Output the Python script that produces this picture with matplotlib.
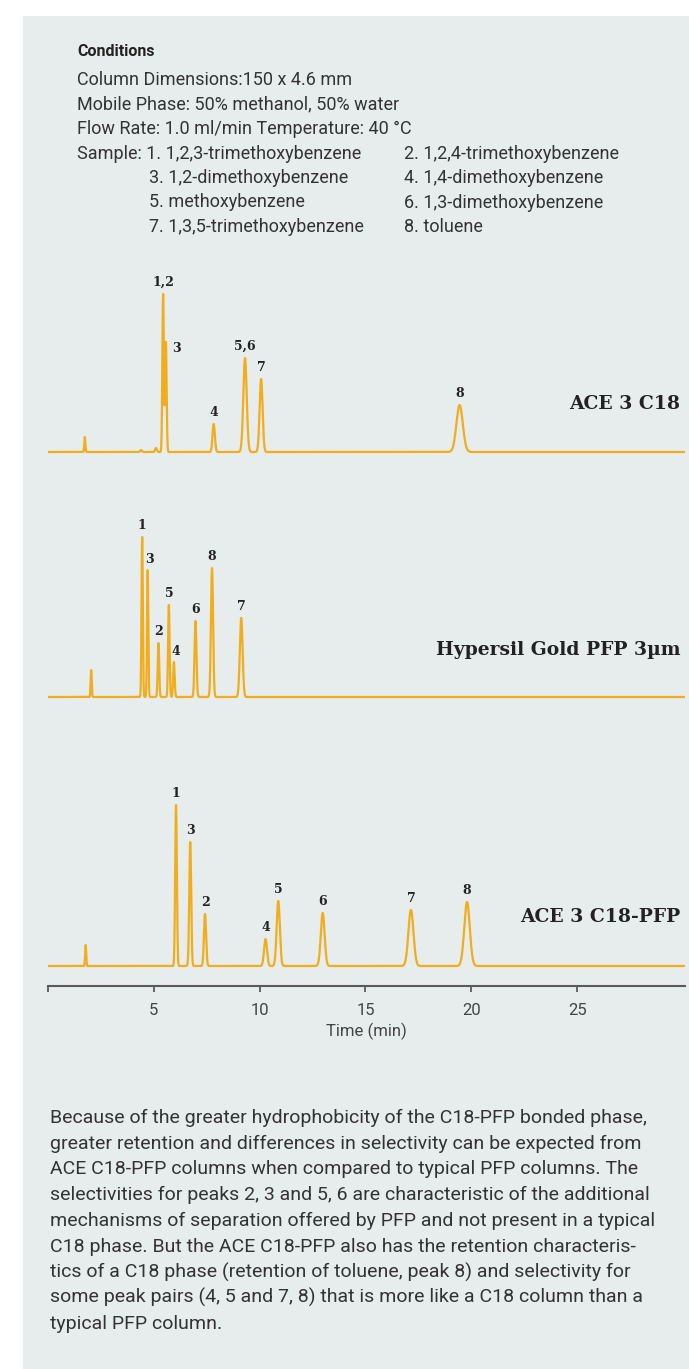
import numpy as np
import matplotlib
matplotlib.use('Agg')
import matplotlib.pyplot as plt
from matplotlib.patches import Rectangle

# sample compounds
compounds = ['1,2,3-trimethoxybenzene', '1,2,4-trimethoxybenzene', '1,2-dimethoxybenzene',
             '1,4-dimethoxybenzene', 'methoxybenzene', '1,3-dimethoxybenzene',
             '1,3,5-trimethoxybenzene', 'toluene']

# ACE 3 C18: retention time (min), height, width (sigma, min), label
c18_time = [1.74, 4.40, 5.10, 5.44, 5.57, 7.83, 9.31, 10.07, 19.45]
c18_height = [15, 2, 4, 158, 110, 28, 94, 73, 47]
c18_width = [0.025, 0.04, 0.04, 0.035, 0.035, 0.055, 0.08, 0.07, 0.15]
c18_label = ['', '', '', '1,2', '3', '4', '5,6', '7', '8']

# Hypersil Gold PFP 3um
hyp_time = [2.04, 4.45, 4.71, 5.22, 5.71, 5.95, 6.97, 7.75, 9.13]
hyp_height = [27, 160, 127, 54, 92, 35, 76, 129, 79]
hyp_width = [0.025, 0.03, 0.03, 0.035, 0.035, 0.035, 0.045, 0.05, 0.065]
hyp_label = ['', '1', '3', '2', '5', '4', '6', '8', '7']

# ACE 3 C18-PFP
pfp_time = [1.78, 6.05, 6.72, 7.42, 10.28, 10.88, 12.98, 17.15, 19.80]
pfp_height = [21, 161, 124, 52, 27, 65, 53, 56, 64]
pfp_width = [0.025, 0.04, 0.045, 0.05, 0.07, 0.075, 0.09, 0.12, 0.13]
pfp_label = ['', '1', '3', '2', '4', '5', '6', '7', '8']

ticks = [0, 5, 10, 15, 20, 25]

paragraph = [
    'Because of the greater hydrophobicity of the C18-PFP bonded phase,',
    'greater retention and differences in selectivity can be expected from',
    'ACE C18-PFP columns when compared to typical PFP columns. The',
    'selectivities for peaks 2, 3 and 5, 6 are characteristic of the additional',
    'mechanisms of separation offered by PFP and not present in a typical',
    'C18 phase. But the ACE C18-PFP also has the retention characteris-',
    'tics of a C18 phase (retention of toluene, peak 8) and selectivity for',
    'some peak pairs (4, 5 and 7, 8) that is more like a C18 column than a',
    'typical PFP column.',
]

W, H = 689, 1369
GOLD = '#f0ae1e'
TXT = '#333333'
SANS = ['Roboto', 'DejaVu Sans']
SERIF = ['DejaVu Serif']

fig = plt.figure(figsize=(W / 100, H / 100), dpi=100)
fig.patches.append(Rectangle((23 / W, 0), 1, 1 - 16 / H, transform=fig.transFigure,
                             facecolor='#e7ecec', edgecolor='none', zorder=-10))


def fy(py):
    return 1 - py / H


def ftext(px, py, s, **kw):
    kw.setdefault('family', SANS)
    kw.setdefault('fontsize', 13)
    kw.setdefault('color', TXT)
    fig.text(px / W, fy(py), s, va='center', ha='left', **kw)


# conditions block
ftext(77, 52, 'Conditions', fontsize=11.5, weight='bold', color='#222222')
ftext(77, 80, 'Column Dimensions:150 x 4.6 mm')
ftext(77, 104, 'Mobile Phase: 50% methanol, 50% water')
ftext(77, 129, 'Flow Rate: 1.0 ml/min Temperature: 40 \u00b0C')
ftext(77, 154, 'Sample: 1. ' + compounds[0])
rows = [(2, 3), (4, 5), (6, 7)]
for k, (a, b) in enumerate(rows):
    ftext(149, 178 + 24.3 * k, '%d. %s' % (a + 1, compounds[a]))
for k in range(4):
    ftext(404, 154 + 24.3 * k, '%d. %s' % (2 * k + 2, compounds[2 * k + 1]))

t = np.linspace(0, 30.1, 6000)
x0, x1 = 48, 685
name_y = {'ACE 3 C18': 404, 'Hypersil Gold PFP 3\u00b5m': 650, 'ACE 3 C18-PFP': 917}


def trace(top, bottom, base, times, heights, widths, labels, name):
    ax = fig.add_axes([x0 / W, fy(bottom), (x1 - x0) / W, (bottom - top) / H])
    ax.set_xlim(0, 30.1)
    ax.set_ylim(-(bottom - base), base - top)
    y = np.zeros_like(t)
    for tm, h, s in zip(times, heights, widths):
        y += h * np.exp(-0.5 * ((t - tm) / s) ** 2)
    ax.plot(t, y, color=GOLD, lw=1.6, solid_joinstyle='round')
    for tm, lab in zip(times, labels):
        if not lab:
            continue
        yt = np.interp(tm, t, y)
        dx, dy = 0, 12
        if name == 'ACE 3 C18' and lab == '3':
            dx, dy = 11, -7
        elif name.startswith('Hyper') and lab in ('4', '3'):
            dx, dy = 2, 11
        ax.annotate(lab, (tm, yt), xytext=(dx, dy), textcoords='offset pixels',
                    ha='center', va='center', family=SERIF, weight='bold',
                    fontsize=9, color='#222222')
    fig.text(680 / W, fy(name_y[name]), name, ha='right', va='center', family=SERIF,
             weight='bold', fontsize=13.5, color='#222222')
    ax.patch.set_visible(False)
    for sp in ax.spines.values():
        sp.set_visible(False)
    ax.set_xticks([])
    ax.set_yticks([])
    return ax


trace(265, 470, 452, c18_time, c18_height, c18_width, c18_label, 'ACE 3 C18')
trace(510, 715, 697, hyp_time, hyp_height, hyp_width, hyp_label, 'Hypersil Gold PFP 3\u00b5m')
ax3 = trace(775, 986, 966, pfp_time, pfp_height, pfp_width, pfp_label, 'ACE 3 C18-PFP')

ax3.spines['bottom'].set_visible(True)
ax3.spines['bottom'].set_color('#5a5a5a')
ax3.spines['bottom'].set_linewidth(1.5)
ax3.set_xticks(ticks)
ax3.set_xticklabels([''] + [str(v) for v in ticks[1:]])
ax3.tick_params(axis='x', direction='out', length=4, width=1.3, color='#5a5a5a',
                labelsize=12, labelcolor='#444444', pad=8)
for lab in ax3.get_xticklabels():
    lab.set_family(SANS)
ax3.set_xlabel('Time (min)', fontsize=12, color='#444444', family=SANS, labelpad=4)

for k, line in enumerate(paragraph):
    ftext(50, 1118 + 25.7 * k, line, fontsize=14)

fig.savefig('out.png', dpi=100, facecolor='white')
